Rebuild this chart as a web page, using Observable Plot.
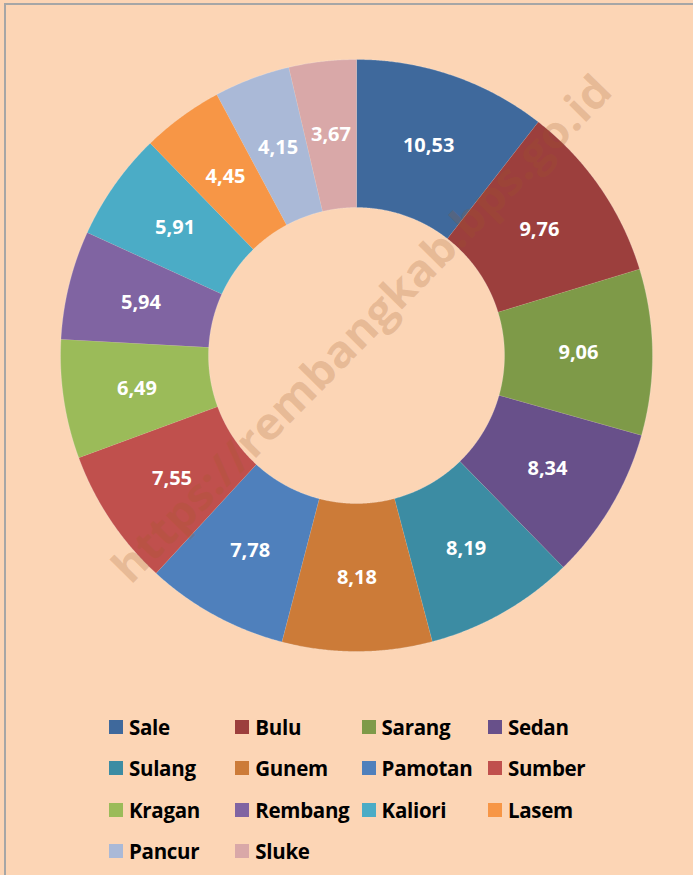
<!DOCTYPE html>
<html>
<head>
<meta charset="utf-8">
<script src="https://cdn.jsdelivr.net/npm/d3@7"></script>
<script src="https://cdn.jsdelivr.net/npm/@observablehq/plot@0.6"></script>
<style>
  html, body { margin: 0; padding: 0; background: #FCD5B5; }
  body { width: 693px; height: 875px; overflow: hidden; position: relative; }
  #frame { position: absolute; left: 4px; top: 3px; width: 720px; height: 900px;
           border-top: 2px solid #A6A6A6; border-left: 2px solid #A6A6A6; box-sizing: border-box; }
  #chart { position: absolute; left: 0; top: 0; }
  #legend { position: absolute; left: 109px; top: 715px; display: grid;
            grid-template-columns: repeat(4, 126.3px); grid-auto-rows: 41.3px;
            font-family: "Open Sans", Lato, sans-serif; font-weight: bold; font-size: 20.5px; color: #000; letter-spacing: -0.3px; }
  .item { display: flex; align-items: center; height: 24px; white-space: nowrap; }
  .sw { width: 14px; height: 14px; margin-right: 6px; flex: none; }
</style>
</head>
<body>
<div id="frame"></div>
<div id="chart"></div>
<div id="legend"></div>
<script>
const names = ["Sale","Bulu","Sarang","Sedan","Sulang","Gunem","Pamotan","Sumber","Kragan","Rembang","Kaliori","Lasem","Pancur","Sluke"];
const values = [10.53,9.76,9.06,8.34,8.19,8.18,7.78,7.55,6.49,5.94,5.91,4.45,4.15,3.67];
const colors = ["#3F699C","#9C3F3D","#7E9A48","#68508A","#3C8CA3","#CC7B38","#4F80BC","#C0504D","#9BBB59","#8064A2","#4BACC6","#F79646","#AAB9D7","#D9A8A8"];
const labels = ["10,53","9,76","9,06","8,34","8,19","8,18","7,78","7,55","6,49","5,94","5,91","4,45","4,15","3,67"];
const watermark = "https://rembangkab.bps.go.id";

const R = 296, r0 = 148;
const total = d3.sum(values);
const angle = d3.scaleLinear().domain([0, total]).range([0, 2 * Math.PI]);
const cum = d3.cumsum(values);

const ring = [];
const labelPts = [];
names.forEach((name, i) => {
  const a0 = angle(cum[i] - values[i]), a1 = angle(cum[i]);
  const n = Math.max(4, Math.ceil((a1 - a0) / 0.005));
  for (let k = 0; k <= n; k++) {
    const a = a0 + (a1 - a0) * k / n;
    ring.push({name, x: R * Math.sin(a), y: R * Math.cos(a)});
  }
  for (let k = n; k >= 0; k--) {
    const a = a0 + (a1 - a0) * k / n;
    ring.push({name, x: r0 * Math.sin(a), y: r0 * Math.cos(a)});
  }
  const am = (a0 + a1) / 2, rm = (R + r0) / 2;
  labelPts.push({name, label: labels[i], x: rm * Math.sin(am), y: rm * Math.cos(am)});
});

const plot = Plot.plot({
  width: 693,
  height: 700,
  margin: 0,
  style: {background: "transparent", overflow: "visible"},
  x: {domain: [-356, 337], range: [0, 693], axis: null},
  y: {domain: [-345, 355], range: [700, 0], axis: null},
  color: {domain: names, range: colors},
  marks: [
    Plot.line(ring, {x: "x", y: "y", z: "name", fill: "name", stroke: "#F2F2F2", strokeWidth: 0.4, strokeOpacity: 0.6, curve: "linear"}),
    Plot.text(labelPts, {x: "x", y: "y", text: "label", fill: "white", fontWeight: "bold", fontSize: 20, fontFamily: "'Open Sans', Lato, sans-serif"}),
    Plot.text([watermark], {x: () => 6, y: () => 26, text: d => d, rotate: -45.5, fill: "#A05A28", fillOpacity: 0.22, fontWeight: "bold", fontSize: 44, fontFamily: "'Open Sans', Lato, sans-serif", className: "wm"})
  ]
});
document.getElementById("chart").appendChild(plot);
const wm = plot.querySelector(".wm text");
if (wm) { wm.setAttribute("textLength", 690); wm.setAttribute("lengthAdjust", "spacingAndGlyphs"); }

const leg = document.getElementById("legend");
names.forEach((name, i) => {
  const it = document.createElement("div");
  it.className = "item";
  const sw = document.createElement("span");
  sw.className = "sw";
  sw.style.background = colors[i];
  it.appendChild(sw);
  it.appendChild(document.createTextNode(name));
  leg.appendChild(it);
});
</script>
</body>
</html>
